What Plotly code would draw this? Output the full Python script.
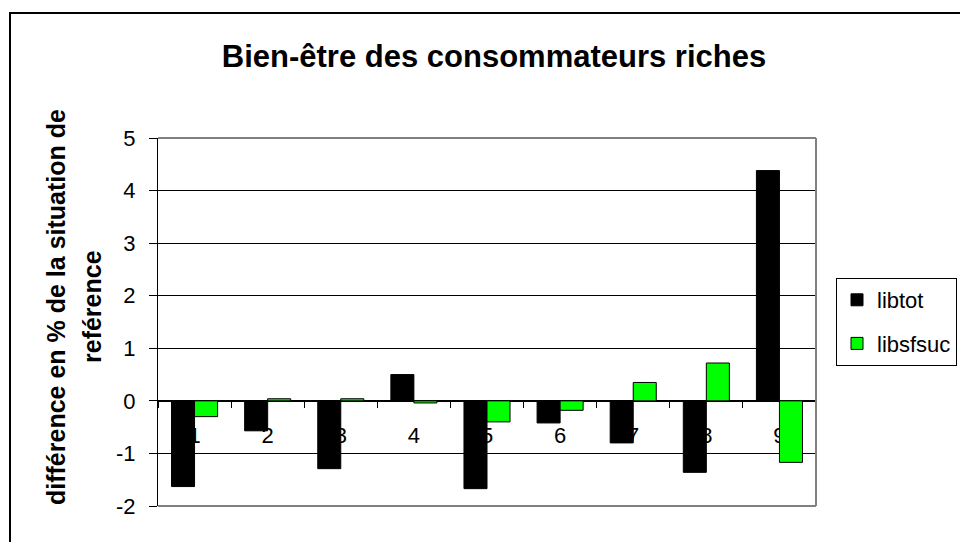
import plotly.graph_objects as go

categories = ["1", "2", "3", "4", "5", "6", "7", "8", "9"]
libtot = [-1.63, -0.57, -1.29, 0.50, -1.67, -0.42, -0.80, -1.36, 4.38]
libsfsuc = [-0.30, 0.04, 0.04, -0.04, -0.40, -0.18, 0.35, 0.72, -1.17]
y_range = [-2, 5]
y_ticks = [-2, -1, 0, 1, 2, 3, 4, 5]
y_tick_labels = ["-2", "-1", "0", "1", "2", "3", "4", "5"]

FONT = "Liberation Sans, Arial, sans-serif"
W, H = 960, 542
ML, MR, MT, MB = 158, 144, 138, 36
PW, PH = W - ML - MR, H - MT - MB

def px_x(p):
    return (p - ML) / PW

def px_y(p):
    return (H - MB - p) / PH

fig = go.Figure()
fig.add_trace(go.Bar(x=categories, y=libtot, name="libtot",
                     marker=dict(color="#000000", line=dict(color="#000000", width=1)),
                     legendgroup="a"))
fig.add_trace(go.Bar(x=categories, y=libsfsuc, name="libsfsuc",
                     marker=dict(color="#00FF00", line=dict(color="#000000", width=1)),
                     legendgroup="b"))

zero_pos = (0 - y_range[0]) / (y_range[1] - y_range[0])

fig.update_layout(
    width=W, height=H,
    margin=dict(l=ML, r=MR, t=MT, b=MB, pad=0, autoexpand=False),
    paper_bgcolor="white", plot_bgcolor="white",
    font=dict(family=FONT, color="black", size=22),
    barmode="group", bargap=0.37, bargroupgap=0,
    title=dict(text="<b>Bien-être des consommateurs riches</b>",
               x=px_x(494), xref="paper", xanchor="center",
               y=1 - 56 / H, yref="container", yanchor="middle",
               font=dict(size=31, family=FONT, color="black")),
    xaxis=dict(type="category", anchor="free", position=zero_pos,
               showline=True, linecolor="black", linewidth=1,
               ticks="outside", tickson="boundaries", ticklen=6, tickcolor="black",
               tickfont=dict(size=22, family=FONT), ticklabelstandoff=15,
               showgrid=False, zeroline=False, layer="below traces"),
    yaxis=dict(range=y_range, tickvals=y_ticks, ticktext=y_tick_labels,
               showline=True, linecolor="black",
               linewidth=1, ticks="outside", ticklen=8, tickcolor="black",
               tickfont=dict(size=22, family=FONT), ticklabelstandoff=9,
               showgrid=True, gridcolor="black", gridwidth=1, zeroline=False,
               layer="below traces"),
    legend=dict(x=px_x(836), y=px_y(278), xanchor="left", yanchor="top",
                bordercolor="black", borderwidth=1, bgcolor="white",
                font=dict(size=22, family=FONT), traceorder="grouped",
                tracegroupgap=12, itemwidth=30),
    showlegend=True,
)

# plot area border (gray) on top, right, bottom
for (x0, y0, x1, y1) in [(0, 1, 1, 1), (1, 0, 1, 1), (0, 0, 1, 0)]:
    fig.add_shape(type="line", xref="paper", yref="paper", x0=x0, y0=y0, x1=x1, y1=y1,
                  line=dict(color="#808080", width=2), layer="above")

# outer chart border
fig.add_shape(type="rect", xref="paper", yref="paper",
              x0=px_x(10), y0=px_y(560), x1=px_x(975), y1=px_y(13),
              line=dict(color="black", width=2), fillcolor="rgba(0,0,0,0)", layer="below")

# y-axis title (two lines)
fig.add_annotation(text="<b>différence en % de la situation de</b>",
                   xref="paper", yref="paper", x=px_x(56), y=px_y(307),
                   xanchor="center", yanchor="middle", textangle=-90, showarrow=False,
                   font=dict(size=25, family=FONT, color="black"))
fig.add_annotation(text="<b>reférence</b>",
                   xref="paper", yref="paper", x=px_x(92), y=px_y(307),
                   xanchor="center", yanchor="middle", textangle=-90, showarrow=False,
                   font=dict(size=25, family=FONT, color="black"))

fig.write_html("out.html", config={"displayModeBar": False},
               post_script="document.body.style.margin='0';document.body.style.overflow='hidden';")
